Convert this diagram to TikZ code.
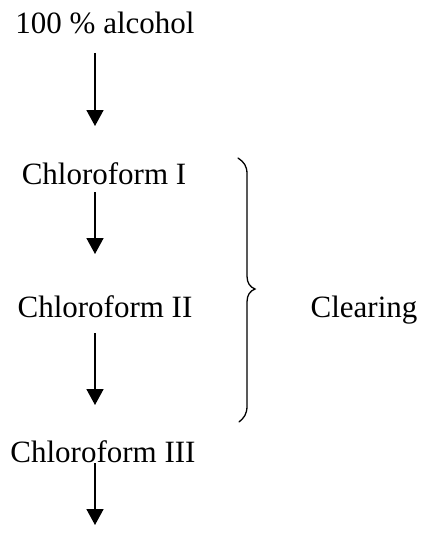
\documentclass[tikz,border=0pt]{standalone}
\usepackage{fontspec}
\setmainfont{Liberation Serif}
\usetikzlibrary{arrows.meta}
\begin{document}
\begin{tikzpicture}[x=1pt,y=1pt,
  label/.style={inner sep=0pt,anchor=base,font=\fontsize{31}{37}\selectfont},
  arr/.style={line width=1.7pt,-{Triangle[width=17pt,length=16pt]}},
  bracestyle/.style={line width=1.3pt,line cap=round}]
\useasboundingbox (0,0) rectangle (430,-535);
\node[label] (alc) at (105,-34) {100 \% alcohol};
\node[label] (c1) at (104,-184) {Chloroform I};
\node[label] (c2) at (105,-317) {Chloroform II};
\node[label] (c3) at (103,-462) {Chloroform III};
\node[label] (clr) at (364,-317) {Clearing};
\coordinate (endpt) at (95,-525);
\draw[arr] ([xshift=-10pt,yshift=-19pt]alc.base) -- ([xshift=-9pt,yshift=58pt]c1.base);
\draw[arr] ([xshift=-9pt,yshift=-8pt]c1.base) -- ([xshift=-10pt,yshift=63pt]c2.base);
\draw[arr] ([xshift=-10pt,yshift=-16pt]c2.base) -- ([xshift=-8pt,yshift=57pt]c3.base);
\draw[arr] ([xshift=-8pt,yshift=-1pt]c3.base) -- (endpt);
\draw[bracestyle] (238,-158) .. controls (244,-162) and (247,-166) .. (247,-174)
  -- (247,-276) .. controls (247,-283) and (250,-287) .. (255,-289)
  .. controls (250,-291) and (247,-295) .. (247,-302)
  -- (247,-406) .. controls (247,-414) and (244,-418) .. (239,-422);
\end{tikzpicture}
\end{document}
